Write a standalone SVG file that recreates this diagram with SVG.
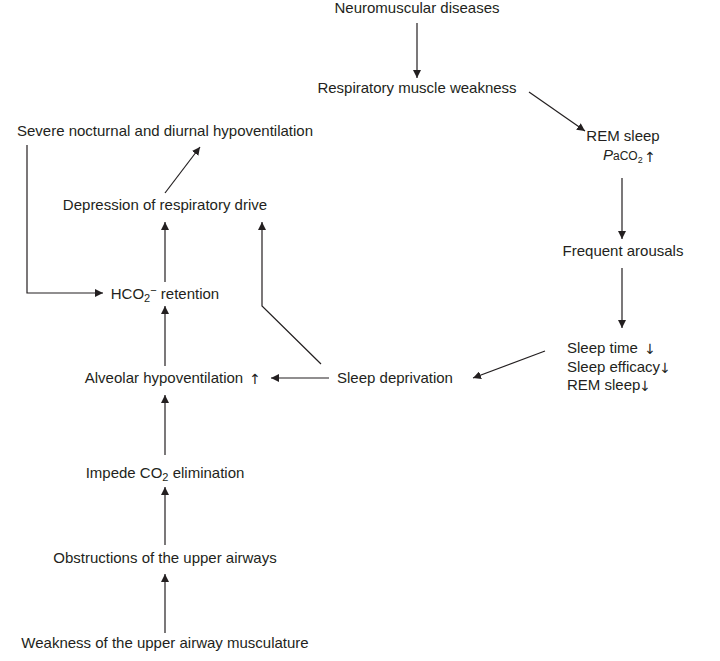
<svg xmlns="http://www.w3.org/2000/svg" width="720" height="661" viewBox="0 0 720 661">
<style>
text{font-family:"Liberation Sans","DejaVu Sans",sans-serif;font-size:15px;fill:#231f20}
.c{text-anchor:middle}
.sym{font-family:"DejaVu Sans",sans-serif;font-size:14px;text-anchor:middle;font-variant-emoji:text}
.ln{stroke:#231f20;stroke-width:1.2;fill:none}
</style>
<defs>
<marker id="ah" viewBox="0 0 10 10" refX="10" refY="5" markerWidth="8" markerHeight="8" markerUnits="userSpaceOnUse" orient="auto">
<path d="M0,0 L10,5 L0,10 z" fill="#231f20"/>
</marker>
</defs>
<rect width="720" height="661" fill="#fff"/>
<g id="connectors">
<line class="ln" x1="417" y1="23" x2="417" y2="78" marker-end="url(#ah)"/>
<line class="ln" x1="529" y1="92" x2="585" y2="131" marker-end="url(#ah)"/>
<line class="ln" x1="622" y1="178" x2="622" y2="239" marker-end="url(#ah)"/>
<line class="ln" x1="622" y1="268" x2="622" y2="328" marker-end="url(#ah)"/>
<line class="ln" x1="545" y1="351" x2="473" y2="378" marker-end="url(#ah)"/>
<line class="ln" x1="329" y1="378" x2="271" y2="378" marker-end="url(#ah)"/>
<polyline class="ln" points="321,364 262,306 262,222" marker-end="url(#ah)"/>
<polyline class="ln" points="27,145 27,293 103,293" marker-end="url(#ah)"/>
<line class="ln" x1="165" y1="282" x2="165" y2="222" marker-end="url(#ah)"/>
<line class="ln" x1="165" y1="193" x2="200" y2="147" marker-end="url(#ah)"/>
<line class="ln" x1="165" y1="366" x2="165" y2="306" marker-end="url(#ah)"/>
<line class="ln" x1="165" y1="455" x2="165" y2="395" marker-end="url(#ah)"/>
<line class="ln" x1="165" y1="545" x2="165" y2="487" marker-end="url(#ah)"/>
<line class="ln" x1="165" y1="633" x2="165" y2="574" marker-end="url(#ah)"/>
</g>
<g id="n-neuromuscular"><text class="c" x="417" y="13">Neuromuscular diseases</text></g>
<g id="n-respiratory"><text class="c" x="417" y="93">Respiratory muscle weakness</text></g>
<g id="n-rem"><text class="c" x="623" y="141">REM sleep</text>
<text x="603" y="160"><tspan font-style="italic">P</tspan><tspan font-size="12">aCO</tspan><tspan font-size="9" dy="3">2</tspan></text>
<text class="sym" x="650" y="162">↑</text></g>
<g id="n-arousals"><text class="c" x="623" y="256">Frequent arousals</text></g>
<g id="n-sleep"><text x="567" y="353">Sleep time</text><text class="sym" x="650" y="354">↓</text>
<text x="567" y="372">Sleep efficacy</text><text class="sym" x="665" y="373">↓</text>
<text x="567" y="390">REM sleep</text><text class="sym" x="645" y="391">↓</text></g>
<g id="n-deprivation"><text class="c" x="395" y="383">Sleep deprivation</text></g>
<g id="n-severe"><text class="c" x="165" y="136">Severe nocturnal and diurnal hypoventilation</text></g>
<g id="n-depression"><text class="c" x="165" y="210">Depression of respiratory drive</text></g>
<g id="n-hco2"><text class="c" x="165" y="299">HCO<tspan font-size="11" dy="3">2</tspan><tspan font-size="11" dy="-8">−</tspan><tspan dy="5"> retention</tspan></text></g>
<g id="n-alveolar"><text class="c" x="164" y="383">Alveolar hypoventilation</text><text class="sym" x="255" y="384">↑</text></g>
<g id="n-impede"><text class="c" x="165" y="478">Impede CO<tspan font-size="11" dy="3">2</tspan><tspan dy="-3"> elimination</tspan></text></g>
<g id="n-obstructions"><text class="c" x="165" y="563">Obstructions of the upper airways</text></g>
<g id="n-weakness"><text class="c" x="165" y="648">Weakness of the upper airway musculature</text></g>
</svg>
